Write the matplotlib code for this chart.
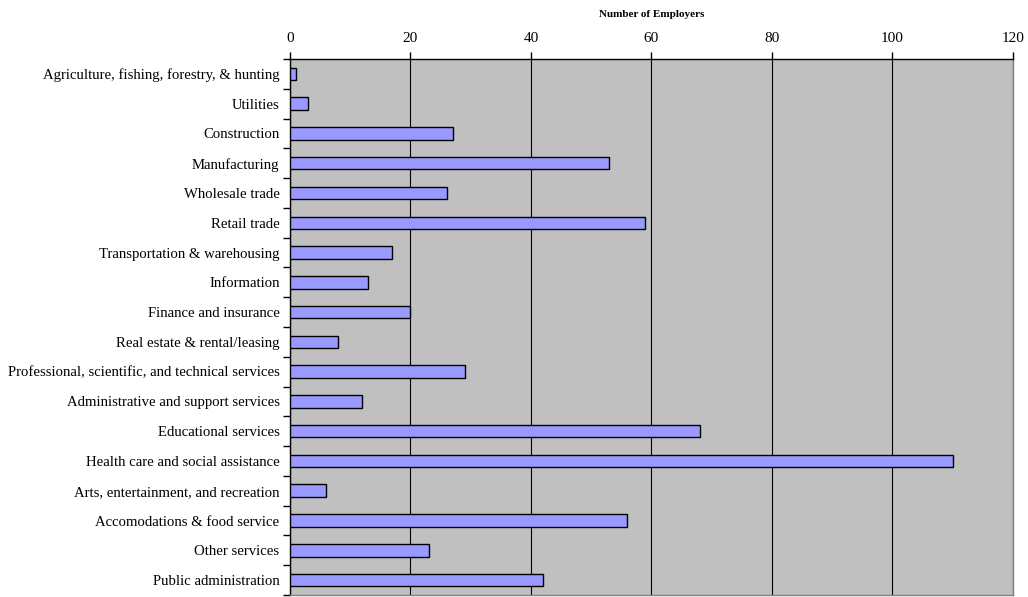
import matplotlib.pyplot as plt
import numpy as np

# industry categories and employer counts
industries = [
    "Agriculture, fishing, forestry, & hunting",
    "Utilities",
    "Construction",
    "Manufacturing",
    "Wholesale trade",
    "Retail trade",
    "Transportation & warehousing",
    "Information",
    "Finance and insurance",
    "Real estate & rental/leasing",
    "Professional, scientific, and technical services",
    "Administrative and support services",
    "Educational services",
    "Health care and social assistance",
    "Arts, entertainment, and recreation",
    "Accomodations & food service",
    "Other services",
    "Public administration",
]
employers = [1, 3, 27, 53, 26, 59, 17, 13, 20, 8, 29, 12, 68, 110, 6, 56, 23, 42]
x_ticks = [0, 20, 40, 60, 80, 100, 120]

plt.rcParams['font.family'] = ['Liberation Serif', 'DejaVu Serif']

fig = plt.figure(figsize=(10.28, 5.97), dpi=100)
ax = fig.add_axes([0.2821, 0.0034, 0.7033, 0.8978])
ax.set_facecolor('#C0C0C0')

y = np.arange(len(industries))
ax.barh(y, employers, height=0.42, color='#9999FF', edgecolor='black', linewidth=1.0, zorder=3)

ax.set_xlim(0, 120)
ax.set_ylim(len(industries) - 0.5, -0.5)

# x axis on top
ax.xaxis.tick_top()
ax.xaxis.set_label_position('top')
ax.set_xticks(x_ticks)
ax.set_xticklabels([str(t) for t in x_ticks], fontsize=11)
ax.tick_params(axis='x', direction='out', length=5, width=1, pad=5, color='black')
ax.set_xlabel("Number of Employers", fontsize=8, fontweight='bold', labelpad=11)
ax.grid(axis='x', color='black', linewidth=0.8, zorder=1)

# category labels centred, ticks between categories
ax.set_yticks(y)
ax.set_yticklabels(industries, fontsize=10.6)
ax.tick_params(axis='y', which='major', length=0, pad=7.5)
ax.set_yticks(np.arange(len(industries) + 1) - 0.5, minor=True)
ax.tick_params(axis='y', which='minor', direction='out', length=5, width=1, color='black')

ax.spines['left'].set_color('black')
ax.spines['top'].set_color('black')
ax.spines['right'].set_color('#808080')
ax.spines['bottom'].set_color('#808080')
for s in ax.spines.values():
    s.set_linewidth(1.0)

fig.savefig('out.png', dpi=100)
